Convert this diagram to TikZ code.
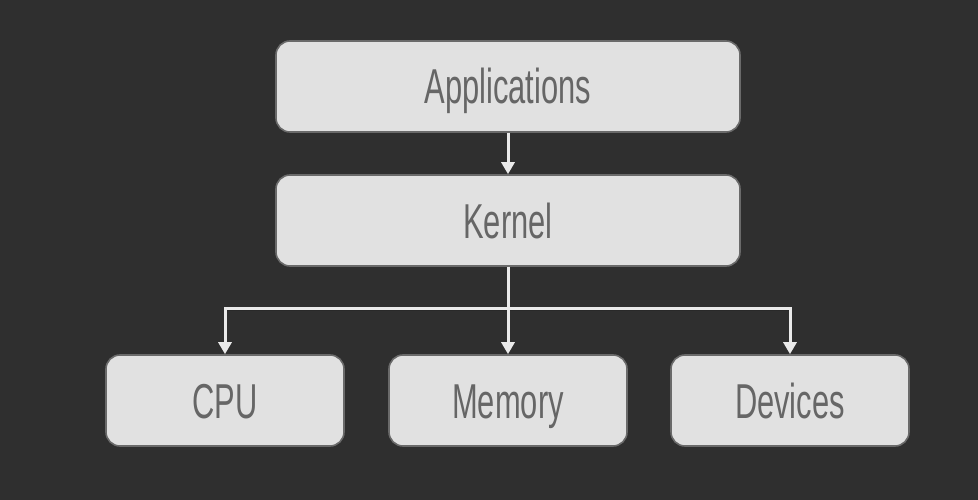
\documentclass[tikz,border=0pt]{standalone}
\usepackage{fontspec}
\setmainfont{Liberation Sans}[FakeStretch=0.63]
\usetikzlibrary{arrows.meta}
\definecolor{bgc}{HTML}{2F2F2F}
\definecolor{boxc}{HTML}{E1E1E1}
\definecolor{edgec}{HTML}{6A6A6A}
\definecolor{txtc}{HTML}{666666}
\definecolor{arrc}{HTML}{EAEAEA}
\tikzset{
  blk/.style={draw=edgec, line width=1.6pt, fill=boxc, rounded corners=14pt,
    minimum height=91pt, text=txtc, font=\fontsize{49}{50}\selectfont,
    text height=35pt, text depth=0pt, inner sep=0pt},
  wide/.style={blk, minimum width=464pt},
  narrow/.style={blk, minimum width=238pt},
  conn/.style={draw=arrc, line width=3pt, -{Triangle[length=12pt,width=13pt]}},
  conn2/.style={draw=arrc, line width=3pt, {Triangle[length=12pt,width=13pt]}-{Triangle[length=12pt,width=13pt]}},
  shade/.style={draw=black!85, line width=3pt, opacity=0.6}
}
\begin{document}
\begin{tikzpicture}[x=1pt,y=-1pt]
\fill[bgc] (0,0) rectangle (978,500);
\useasboundingbox (0,0) rectangle (978,500);
\node[wide] (apps) at (508,86.5) {Applications};
\node[wide] (kernel) at (508,220.5) {Kernel};
\node[narrow] (cpu) at (225,400.5) {CPU};
\node[narrow] (mem) at (508,400.5) {Memory};
\node[narrow] (dev) at (790,400.5) {Devices};
\coordinate (bus) at (508,308);
% shadows
\draw[shade] ([shift={(0,1.5)}]cpu.north |- bus) -- ([shift={(0,1.5)}]dev.north |- bus);
\draw[conn] (apps.south) -- (kernel.north);
\draw[conn2] (cpu.north) -- (cpu.north |- bus) -- (dev.north |- bus) -- (dev.north);
\draw[conn] (kernel.south) -- (mem.north);
\end{tikzpicture}
\end{document}
